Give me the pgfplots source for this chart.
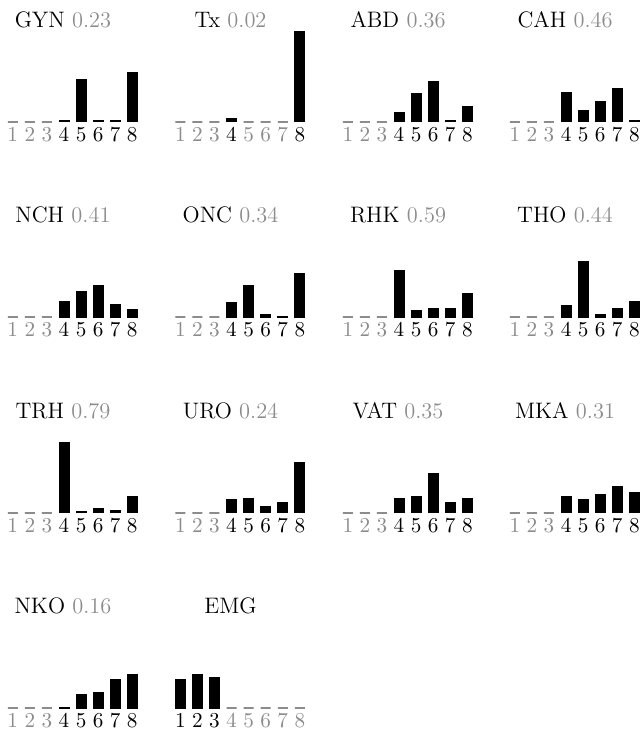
\documentclass[border=0pt]{standalone}
\usepackage{pgfplots}
\pgfplotsset{compat=1.18}
\definecolor{lg}{rgb}{0.55,0.55,0.55}
\newcommand{\G}[1]{\textcolor{lg}{#1}}
% #1 x (pt), #2 y (pt), #3 name, #4 number, #5 nonzero bars, #6 zero positions, #7 tick labels
\newcommand{\panel}[7]{%
\begin{axis}[at={(#1pt,#2pt)}, anchor=south west,
  x=8.535pt, y=47pt, xmin=0.5, xmax=8.5, ymin=0, ymax=1,
  hide y axis, axis x line*=bottom, x axis line style={draw=none},
  xtick={1,...,8}, xticklabels={#7}, major tick length=0pt,
  xticklabel style={anchor=north, inner sep=0pt, yshift=-2.4pt, font=\fontsize{10.6}{12}\selectfont},
  clip=false, ybar, bar width=5pt, bar shift=0pt]
  \addplot[draw=lg, fill=lg, line width=0.85pt] coordinates {#6};
  \addplot[draw=black, fill=black, line width=0.5pt] coordinates {#5};
  \node[anchor=base, font=\fontsize{11.2}{13}\selectfont] at (axis cs:3.94,1.005) {#3\ifx\relax#4\relax\else\ \textcolor{lg}{#4}\fi};
\end{axis}}
\begin{document}
\begin{tikzpicture}
\path[use as bounding box] (0,0) rectangle (321pt,-365.5pt);
% row 1
\panel{2.13}{-60.85}{GYN}{0.23}{(4,0.01)(5,0.45)(6,0.01)(7,0.01)(8,0.52)}{(1,0)(2,0)(3,0)}{\G1,\G2,\G3,4,5,6,7,8}
\panel{85.9}{-60.85}{Tx}{0.02}{(4,0.03)(8,0.96)}{(1,0)(2,0)(3,0)(5,0)(6,0)(7,0)}{\G1,\G2,\G3,4,\G5,\G6,\G7,8}
\panel{169.65}{-60.85}{ABD}{0.36}{(4,0.10)(5,0.30)(6,0.43)(7,0.01)(8,0.16)}{(1,0)(2,0)(3,0)}{\G1,\G2,\G3,4,5,6,7,8}
\panel{253.15}{-60.85}{CAH}{0.46}{(4,0.31)(5,0.12)(6,0.21)(7,0.35)(8,0.01)}{(1,0)(2,0)(3,0)}{\G1,\G2,\G3,4,5,6,7,8}
% row 2
\panel{2.13}{-158.6}{NCH}{0.41}{(4,0.17)(5,0.27)(6,0.34)(7,0.14)(8,0.08)}{(1,0)(2,0)(3,0)}{\G1,\G2,\G3,4,5,6,7,8}
\panel{85.9}{-158.6}{ONC}{0.34}{(4,0.16)(5,0.34)(6,0.03)(7,0.01)(8,0.46)}{(1,0)(2,0)(3,0)}{\G1,\G2,\G3,4,5,6,7,8}
\panel{169.65}{-158.6}{RHK}{0.59}{(4,0.50)(5,0.07)(6,0.09)(7,0.09)(8,0.25)}{(1,0)(2,0)(3,0)}{\G1,\G2,\G3,4,5,6,7,8}
\panel{253.15}{-158.6}{THO}{0.44}{(4,0.12)(5,0.59)(6,0.03)(7,0.09)(8,0.17)}{(1,0)(2,0)(3,0)}{\G1,\G2,\G3,4,5,6,7,8}
% row 3
\panel{2.13}{-256.35}{TRH}{0.79}{(4,0.75)(5,0.01)(6,0.05)(7,0.02)(8,0.17)}{(1,0)(2,0)(3,0)}{\G1,\G2,\G3,4,5,6,7,8}
\panel{85.9}{-256.35}{URO}{0.24}{(4,0.14)(5,0.15)(6,0.07)(7,0.11)(8,0.53)}{(1,0)(2,0)(3,0)}{\G1,\G2,\G3,4,5,6,7,8}
\panel{169.65}{-256.35}{VAT}{0.35}{(4,0.15)(5,0.17)(6,0.42)(7,0.11)(8,0.15)}{(1,0)(2,0)(3,0)}{\G1,\G2,\G3,4,5,6,7,8}
\panel{253.15}{-256.35}{MKA}{0.31}{(4,0.17)(5,0.14)(6,0.19)(7,0.28)(8,0.22)}{(1,0)(2,0)(3,0)}{\G1,\G2,\G3,4,5,6,7,8}
% row 4
\panel{2.13}{-354.1}{NKO}{0.16}{(4,0.01)(5,0.15)(6,0.17)(7,0.31)(8,0.36)}{(1,0)(2,0)(3,0)}{\G1,\G2,\G3,4,5,6,7,8}
\panel{85.9}{-354.1}{EMG}{}{(1,0.31)(2,0.36)(3,0.33)}{(4,0)(5,0)(6,0)(7,0)(8,0)}{1,2,3,\G4,\G5,\G6,\G7,\G8}
\end{tikzpicture}
\end{document}
